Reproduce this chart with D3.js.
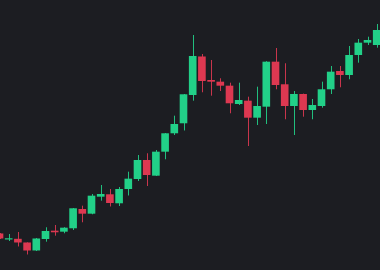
<!DOCTYPE html>
<html>
<head>
<meta charset="utf-8">
<script src="https://cdn.jsdelivr.net/npm/d3@7"></script>
<style>
  html, body { margin: 0; padding: 0; background: #1c1d22; overflow: hidden; }
  svg { display: block; }
</style>
</head>
<body>
<svg id="chart"></svg>
<script>
// candle data (one entry per session)
const opens  = [109.13, 107.63, 107.80, 106.88, 104.88, 107.75, 109.83, 109.58, 110.43, 115.25,
                114.08, 118.33, 118.93, 116.68, 120.25, 122.75, 127.50, 123.58, 129.58, 134.18,
                136.68, 143.75, 153.38, 147.50, 147.08, 146.08, 141.50, 142.33, 138.08, 140.83,
                152.08, 146.43, 141.00, 144.00, 140.00, 141.00, 145.18, 149.75, 148.75, 153.75,
                156.83, 156.25];
const highs  = [109.25, 109.00, 109.50, 106.90, 108.00, 110.68, 111.25, 110.70, 115.50, 116.08,
                119.00, 121.25, 120.25, 120.75, 124.58, 128.75, 129.18, 130.00, 134.25, 138.58,
                144.00, 158.75, 154.00, 152.50, 147.93, 146.83, 146.83, 143.33, 145.83, 152.20,
                155.50, 151.68, 144.75, 144.10, 142.75, 147.08, 151.00, 151.00, 156.00, 157.75,
                158.33, 161.50];
const lows   = [107.75, 107.25, 105.88, 103.88, 104.75, 107.08, 108.58, 109.18, 110.00, 111.93,
                113.93, 117.33, 115.88, 116.00, 118.63, 122.25, 121.00, 123.50, 127.68, 133.75,
                134.88, 142.33, 144.43, 143.58, 144.75, 139.18, 141.25, 131.00, 136.25, 136.50,
                145.18, 137.68, 133.75, 138.33, 137.68, 140.58, 144.00, 145.68, 147.68, 151.83,
                156.25, 155.58];
const closes = [107.88, 107.93, 106.88, 104.88, 107.88, 109.75, 109.43, 110.58, 115.43, 114.08,
                118.58, 119.00, 116.75, 120.25, 122.83, 127.50, 123.75, 129.58, 134.18, 136.50,
                143.93, 153.50, 147.25, 147.08, 146.08, 141.68, 142.50, 138.08, 141.00, 152.08,
                146.25, 141.00, 144.00, 140.00, 141.25, 145.18, 149.58, 148.75, 153.75, 156.83,
                157.50, 160.00];

const UP_COLOR = '#22d088';
const DOWN_COLOR = '#dd3851';

var width = 380;
var height = 270;

var candles = opens.map(function (o, i) {
    return { i: i, open: o, high: highs[i], low: lows[i], close: closes[i] };
});

var svg = d3.select('#chart')
    .attr('width', width)
    .attr('height', height);

svg.append('rect')
    .attr('width', width)
    .attr('height', height)
    .attr('fill', '#1c1d22');

// chart runs off both edges, so the band range starts left of 0
var step = 9.2;
var x = d3.scaleBand()
    .domain(d3.range(candles.length))
    .range([-5.1, -5.1 + candles.length * step])
    .paddingInner(0.17)
    .paddingOuter(0.085);

var y = d3.scaleLinear()
    .domain([100, 160])
    .range([270, 30]);

function colorOf(d) {
    return d.close >= d.open ? UP_COLOR : DOWN_COLOR;
}

var g = svg.selectAll('g.candle')
    .data(candles)
    .enter()
    .append('g')
    .attr('class', 'candle');

g.append('line')
    .attr('x1', function (d) { return Math.round(x(d.i) + x.bandwidth() / 2) + 0.5; })
    .attr('x2', function (d) { return Math.round(x(d.i) + x.bandwidth() / 2) + 0.5; })
    .attr('y1', function (d) { return y(d.high); })
    .attr('y2', function (d) { return y(d.low); })
    .attr('stroke', colorOf)
    .attr('stroke-opacity', 0.9)
    .attr('stroke-width', 1);

g.append('rect')
    .attr('x', function (d) { return x(d.i); })
    .attr('width', x.bandwidth())
    .attr('y', function (d) { return y(Math.max(d.open, d.close)); })
    .attr('height', function (d) {
        return Math.max(1.2, Math.abs(y(d.open) - y(d.close)));
    })
    .attr('fill', colorOf);
</script>
</body>
</html>
